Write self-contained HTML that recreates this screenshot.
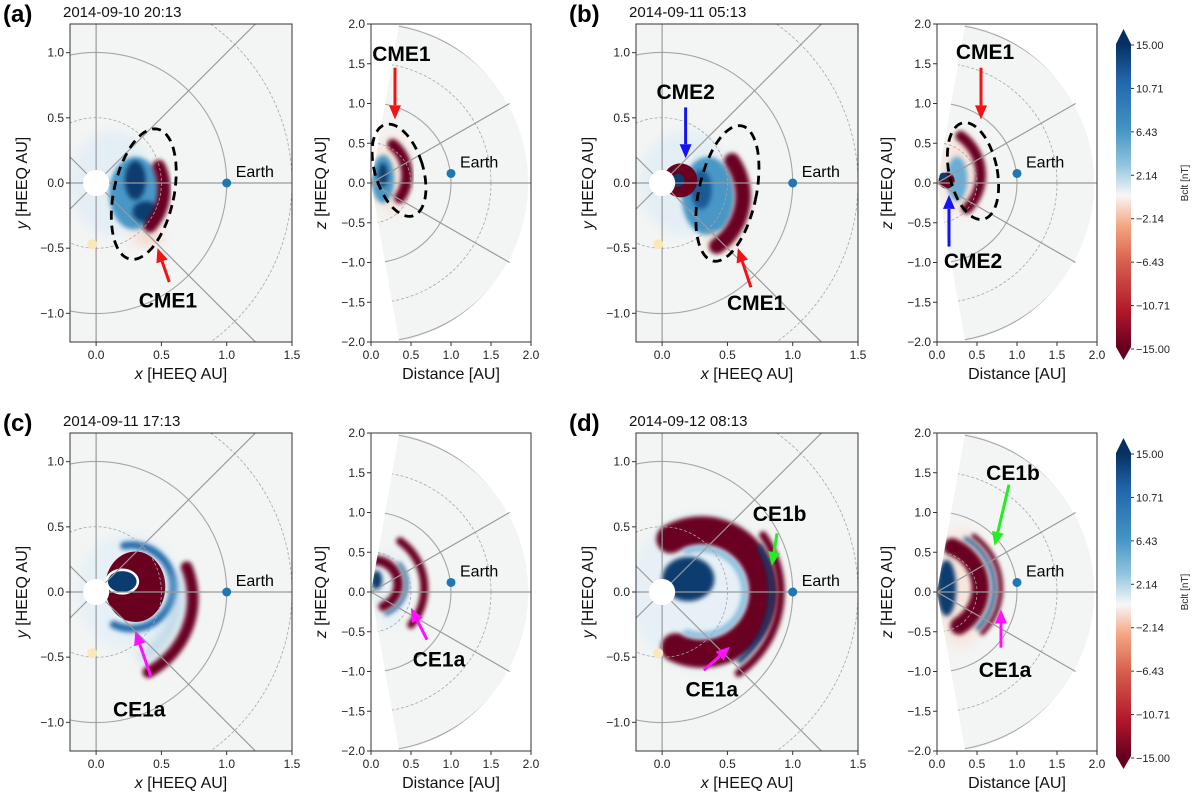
<!DOCTYPE html>
<html><head><meta charset="utf-8"><style>
html,body{margin:0;padding:0;background:#fff;width:1200px;height:796px;overflow:hidden;}
svg{display:block;font-family:"Liberation Sans","DejaVu Sans",sans-serif;}
</style></head><body>
<svg id="fig" width="1200" height="796" viewBox="0 0 1200 796" xmlns="http://www.w3.org/2000/svg">
<defs>
<linearGradient id="cbgrad" x1="0" y1="1" x2="0" y2="0">
<stop offset="0" stop-color="#67001f"/><stop offset="0.12" stop-color="#b2182b"/><stop offset="0.28" stop-color="#d6604d"/>
<stop offset="0.4" stop-color="#f4a582"/><stop offset="0.5" stop-color="#f7f7f7"/><stop offset="0.6" stop-color="#92c5de"/>
<stop offset="0.72" stop-color="#4393c3"/><stop offset="0.88" stop-color="#2166ac"/><stop offset="1" stop-color="#053061"/>
</linearGradient>
<filter id="blur1" x="-50%" y="-50%" width="200%" height="200%"><feGaussianBlur stdDeviation="2"/></filter>
<filter id="blur3" x="-50%" y="-50%" width="200%" height="200%"><feGaussianBlur stdDeviation="6"/></filter>
</defs>
</svg>
<script>
const NS="http://www.w3.org/2000/svg";
const svg=document.getElementById('fig');
// ---- data arrays ----
const panelLabels=["(a)","(b)","(c)","(d)"];
const panelDates=["2014-09-10 20:13","2014-09-11 05:13","2014-09-11 17:13","2014-09-12 08:13"];
const xTicksL=[0.0,0.5,1.0,1.5];
const yTicksL=[-1.0,-0.5,0.0,0.5,1.0];
const xTicksR=[0.0,0.5,1.0,1.5,2.0];
const yTicksR=[-2.0,-1.5,-1.0,-0.5,0.0,0.5,1.0,1.5,2.0];
const cbTicks=["15.00","10.71","6.43","2.14","\u22122.14","\u22126.43","\u221210.71","\u221215.00"];
const earthL=[1.0,0.0];
const earthR=[1.0,0.12];
// features: ell: cx,cy,rx,ry,color,blur ; arc: cx,cy,r,a0,a1,w,color,blur
const featA_L=[["ell",0.12,0.0,0.32,0.4,"#e3eef5",3],["ell",0.3,-0.08,0.2,0.28,"#4a97c6",1],["ell",0.3,0.02,0.08,0.15,"#0b3c6f",1],["ell",0.38,-0.22,0.1,0.08,"#0b3c6f",1],["ell",0.4,-0.42,0.12,0.05,"#f6d2c2",3],["arc",0.1,-0.05,0.42,-42,25,0.1,"#6a0020",1]];
const featA_R=[["ell",0.25,0.1,0.22,0.5,"#f7e3da",3],["ell",0.15,0.05,0.14,0.3,"#4a97c6",1],["ell",0.15,0.1,0.06,0.15,"#0b3c6f",1],["arc",-0.05,0.1,0.5,-35,50,0.14,"#6a0020",1]];
const featB_L=[["ell",0.18,0.0,0.35,0.4,"#e3eef5",3],["ell",0.35,-0.1,0.2,0.3,"#4a97c6",1],["ell",0.3,-0.05,0.08,0.15,"#1b5a95",1],["ell",0.45,-0.45,0.12,0.05,"#f6d2c2",3],["arc",0.15,-0.1,0.47,-55,35,0.12,"#6a0020",1],["ell",0.14,0.02,0.13,0.13,"#6a0020",0],["ell",0.12,0.02,0.05,0.05,"#0b3c6f",0]];
const featB_R=[["ell",0.3,0.1,0.25,0.5,"#f7e3da",3],["ell",0.25,0.05,0.13,0.28,"#6aaed6",1],["arc",-0.05,0.1,0.6,-45,55,0.13,"#6a0020",1],["ell",0.12,0.03,0.1,0.1,"#6a0020",0],["ell",0.08,0.08,0.05,0.05,"#0b3c6f",0]];
const featC_L=[["ell",0.25,0.0,0.4,0.45,"#e6f0f6",3],["arc",0.27,0.04,0.32,-115,100,0.06,"#2b6fae",1],["ell",0.3,0.04,0.23,0.27,"#6a0020",0],["ell",0.2,0.08,0.13,0.1,"#ffffff",0],["ell",0.2,0.08,0.11,0.08,"#0b3c6f",0],["arc",0.1,-0.05,0.64,-62,22,0.09,"#6a0020",1],["arc",0.1,-0.05,0.52,-60,20,0.05,"#8fc0de",2]];
const featC_R=[["ell",0.25,0.05,0.25,0.5,"#e8f1f6",3],["arc",0.05,0.1,0.3,-70,90,0.12,"#6a0020",1],["arc",0.05,0.1,0.4,-70,40,0.04,"#1b5a95",1],["arc",-0.05,0.05,0.72,-40,55,0.1,"#6a0020",1],["ell",0.07,0.15,0.07,0.12,"#0b3c6f",1]];
const featD_L=[["ell",0.3,0.0,0.55,0.6,"#e6f0f6",3],["arc",0.3,0.0,0.47,-115,120,0.22,"#6a0020",1],["ell",0.2,0.1,0.2,0.17,"#0b3c6f",1],["arc",0.3,0.0,0.33,-110,110,0.05,"#8fc0de",1],["arc",0.15,0.0,0.69,-50,30,0.04,"#0b3c6f",1],["arc",0.15,0.0,0.76,-55,35,0.06,"#6a0020",1]];
const featD_R=[["ell",0.3,0.05,0.35,0.75,"#f7e6de",3],["ell",0.12,0.05,0.12,0.35,"#0b3c6f",1],["arc",0.0,0.05,0.55,-60,70,0.22,"#6a0020",1],["arc",0.0,0.05,0.72,-45,60,0.05,"#1b5a95",1],["arc",0.0,0.05,0.8,-45,55,0.06,"#6a0020",1]];
const ellA_L=[0.365,-0.085,0.23,0.51,12], ellA_R=[0.35,0.16,0.3,0.6,-17];
const ellB_L=[0.5,-0.08,0.22,0.53,12], ellB_R=[0.45,0.15,0.3,0.62,-12];
// annotations: label, lx, ly, tail x,y, head x,y, color
const annA_L=[["CME1",0.55,-0.9,0.56,-0.76,0.47,-0.5,"#f01414"]];
const annA_R=[["CME1",0.38,1.62,0.3,1.45,0.3,0.8,"#f01414"]];
const annB_L=[["CME2",0.18,0.7,0.18,0.58,0.18,0.19,"#1414f0"],["CME1",0.72,-0.92,0.68,-0.8,0.58,-0.5,"#f01414"]];
const annB_R=[["CME1",0.6,1.65,0.55,1.45,0.55,0.8,"#f01414"],["CME2",0.45,-0.98,0.15,-0.8,0.15,-0.15,"#1414f0"]];
const annC_L=[["CE1a",0.33,-0.9,0.42,-0.65,0.3,-0.3,"#ff10ff"]];
const annC_R=[["CE1a",0.85,-0.85,0.7,-0.6,0.5,-0.2,"#ff10ff"]];
const annD_L=[["CE1b",0.9,0.6,0.88,0.45,0.84,0.2,"#22ee22"],["CE1a",0.38,-0.75,0.32,-0.6,0.52,-0.42,"#ff10ff"]];
const annD_R=[["CE1b",0.95,1.5,0.9,1.35,0.72,0.58,"#22ee22"],["CE1a",0.85,-0.98,0.8,-0.7,0.8,-0.22,"#ff10ff"]];

function el(tag,attrs,parent){const e=document.createElementNS(NS,tag);for(const k in attrs)e.setAttribute(k,attrs[k]);(parent||svg).appendChild(e);return e;}
let clipId=0;
function makeAxes(ox,oy,kind){
  const A= kind==="L" ? {x0:70+ox,y0:24+oy,w:222,h:318,xmin:-0.2,xmax:1.5,ymin:-1.22,ymax:1.22}
                      : {x0:371+ox,y0:24+oy,w:160,h:318,xmin:0,xmax:2,ymin:-2,ymax:2};
  A.X=v=>A.x0+(v-A.xmin)/(A.xmax-A.xmin)*A.w;
  A.Y=v=>A.y0+(A.ymax-v)/(A.ymax-A.ymin)*A.h;
  A.s=A.w/(A.xmax-A.xmin);
  return A;
}
function drawPanel(ox,oy,kind,feats,ell,anns,earth){
  const A=makeAxes(ox,oy,kind);
  const g=el('g',{});
  
  
  const cid='clip'+(clipId++);
  const cp=el('clipPath',{id:cid},g);
  el('rect',{x:A.x0,y:A.y0,width:A.w,height:A.h},cp);
  const inner=el('g',{'clip-path':`url(#${cid})`},g);
  const bg='#f3f5f4';
  const R=2.03,a=80*Math.PI/180;
  const wedge=`M${A.X(0)},${A.Y(0)} L${A.X(R*Math.cos(a))},${A.Y(R*Math.sin(a))} A${R*A.s},${R*A.s} 0 0 1 ${A.X(R*Math.cos(a))},${A.Y(-R*Math.sin(a))} Z`;
  if(kind==="L"){el('rect',{x:A.x0,y:A.y0,width:A.w,height:A.h,fill:bg},inner);}
  else{el('path',{d:wedge,fill:bg},inner);}
  const fg=el('g',{},inner);
  const wc='wclip'+clipId;
  if(kind==="R"){const wcp=el('clipPath',{id:wc},g);el('path',{d:wedge},wcp);fg.setAttribute('clip-path',`url(#${wc})`);}
  
  
  feats.forEach(f=>{
    let e;
    if(f[0]==="ell"){
      e=el('ellipse',{cx:A.X(f[1]),cy:A.Y(f[2]),rx:f[3]*A.s,ry:f[4]*A.s,fill:f[5]},fg);
      if(f[6])e.setAttribute('filter',f[6]>2?'url(#blur3)':'url(#blur1)');
    }else{
      const [_,cx,cy,r,a0,a1,w,c,b]=f;
      const p0=[cx+r*Math.cos(a0*Math.PI/180),cy+r*Math.sin(a0*Math.PI/180)];
      const p1=[cx+r*Math.cos(a1*Math.PI/180),cy+r*Math.sin(a1*Math.PI/180)];
      const large=(a1-a0)>180?1:0;
      e=el('path',{d:`M${A.X(p0[0])},${A.Y(p0[1])} A${r*A.s},${r*A.s} 0 ${large} 0 ${A.X(p1[0])},${A.Y(p1[1])}`,fill:'none',stroke:c,'stroke-width':w*A.s,'stroke-linecap':'round'},fg);
      if(b)e.setAttribute('filter',b>1?'url(#blur3)':'url(#blur1)');
    }
    
    
  });
  const gc='#a5a5a5';
  const radii = kind==="L" ? [[0.5,true],[1.0,false],[1.5,true]] : [[0.5,true],[1.0,false],[1.5,true],[1.99,false]];
  const gridG=el('g',{},inner);
  if(kind==="R"){gridG.setAttribute('clip-path',`url(#${wc})`);}
  radii.forEach(([r,d])=>{
    const c=el('circle',{cx:A.X(0),cy:A.Y(0),r:r*A.s,fill:'none',stroke:gc,'stroke-width':d?0.8:1.1,'stroke-dasharray':d?'3,2':'none'},gridG);
    
    
  });
  const angs = kind==="L"?[0,45,90,135,180,225,270,315]:[0,30,-30];
  angs.forEach(a=>{
    const t=a*Math.PI/180,RR=kind==="L"?1.95:2.0;
    const l=el('line',{x1:A.X(0),y1:A.Y(0),x2:A.X(RR*Math.cos(t)),y2:A.Y(RR*Math.sin(t)),stroke:'#9a9a9a','stroke-width':1.2},inner);
    
    
  });
  if(kind==="L"){
    const sun=el('circle',{cx:A.X(0),cy:A.Y(0),r:0.1*A.s,fill:'#fff'},inner);
    
    
    const yd=el('circle',{cx:A.X(-0.03),cy:A.Y(-0.47),r:5,fill:'#fbe8b8'},inner);
    
    
  }
  if(ell){
    const [cx,cy,rx,ry,tilt]=ell;const a=tilt*Math.PI/180;let d='';
    for(let i=0;i<=72;i++){const t=i/72*2*Math.PI;
      const x=cx+ry*Math.sin(t)*Math.sin(a)+rx*Math.cos(t)*Math.cos(a);
      const y=cy+ry*Math.sin(t)*Math.cos(a)-rx*Math.cos(t)*Math.sin(a);
      d+=(i?'L':'M')+A.X(x).toFixed(1)+','+A.Y(y).toFixed(1);}
    const e=el('path',{d:d,fill:'none',stroke:'#000','stroke-width':2.8,'stroke-dasharray':'9,6'},inner);
    
    
  }
  const ea=el('circle',{cx:A.X(earth[0]),cy:A.Y(earth[1]),r:4.5,fill:'#1f77b4'},inner);
  
  
  const et=el('text',{x:A.X(earth[0])+9,y:A.Y(earth[1])-6,'font-size':16,fill:'#000'},inner);
  et.textContent='Earth';
  
  
  anns.forEach(an=>{
    const [lab,lx,ly,tx,ty,hx,hy,c]=an;
    const x1=A.X(tx),y1=A.Y(ty),x2=A.X(hx),y2=A.Y(hy);
    const ang=Math.atan2(y2-y1,x2-x1),L=14,W=6;
    const bx=x2-L*Math.cos(ang),by=y2-L*Math.sin(ang);
    const ag=el('g',{},inner);
    
    
    el('line',{x1:x1,y1:y1,x2:bx,y2:by,stroke:c,'stroke-width':3},ag);
    el('polygon',{points:`${x2},${y2} ${bx+W*Math.sin(ang)},${by-W*Math.cos(ang)} ${bx-W*Math.sin(ang)},${by+W*Math.cos(ang)}`,fill:c},ag);
    const t=el('text',{x:A.X(lx),y:A.Y(ly)+7,'font-size':21,'font-weight':'bold','text-anchor':'middle',fill:'#000'},inner);
    t.textContent=lab;
    
    
  });
  const fr=el('rect',{x:A.x0,y:A.y0,width:A.w,height:A.h,fill:'none',stroke:'#333','stroke-width':1},g);
  
  
  const xt=kind==="L"?xTicksL:xTicksR, yt=kind==="L"?yTicksL:yTicksR;
  xt.forEach(v=>{
    el('line',{x1:A.X(v),y1:A.y0+A.h,x2:A.X(v),y2:A.y0+A.h+4,stroke:'#333'},g);
    const t=el('text',{x:A.X(v),y:A.y0+A.h+17,'font-size':12,'text-anchor':'middle',fill:'#222'},g);
    t.textContent=v.toFixed(1);
    
    
  });
  yt.forEach(v=>{
    el('line',{x1:A.x0-4,y1:A.Y(v),x2:A.x0,y2:A.Y(v),stroke:'#333'},g);
    const t=el('text',{x:A.x0-6,y:A.Y(v)+4,'font-size':12,'text-anchor':'end',fill:'#222'},g);
    t.textContent=(v<0?'\u2212':'')+Math.abs(v).toFixed(1);
    
    
  });
  const xl=el('text',{x:A.x0+A.w/2,y:A.y0+A.h+37,'font-size':16,'text-anchor':'middle',fill:'#111'},g);
  xl.innerHTML=kind==="L"?'<tspan font-style="italic">x</tspan> [HEEQ AU]':'Distance [AU]';
  
  
  const yx=A.x0-(kind==="L"?43:45), yy=A.y0+A.h/2;
  const yl=el('text',{x:yx,y:yy,'font-size':16,'text-anchor':'middle',fill:'#111',transform:`rotate(-90 ${yx} ${yy})`},g);
  yl.innerHTML=`<tspan font-style="italic">${kind==="L"?'y':'z'}</tspan> [HEEQ AU]`;
  
  
}
function colorbar(oy){
  const g=el('g',{});
  
  
  const x0=1116,w=15,top=44+oy,bot=347+oy;
  el('rect',{x:x0,y:top,width:w,height:bot-top,fill:'url(#cbgrad)'},g);
  el('polygon',{points:`${x0},${top} ${x0+w},${top} ${x0+w/2},${top-15}`,fill:'#053061'},g);
  el('polygon',{points:`${x0},${bot} ${x0+w},${bot} ${x0+w/2},${bot+13}`,fill:'#67001f'},g);
  cbTicks.forEach((s,i)=>{
    const y=45+oy+i*(304/7);
    el('line',{x1:x0+w,y1:y,x2:x0+w+3,y2:y,stroke:'#333'},g);
    const t=el('text',{x:x0+w+5,y:y+4,'font-size':11,fill:'#222'},g);
    t.textContent=s;
    
    
  });
  const lx=1188,ly=183+oy;
  const t=el('text',{x:lx,y:ly,'font-size':10,'text-anchor':'middle',fill:'#222',transform:`rotate(-90 ${lx} ${ly})`},g);
  t.textContent='Bclt  [nT]';
  
  
}
const offs=[[0,0],[566,0],[0,409],[566,409]];
const FL=[featA_L,featB_L,featC_L,featD_L],FR=[featA_R,featB_R,featC_R,featD_R];
const EL=[ellA_L,ellB_L,null,null],ER=[ellA_R,ellB_R,null,null];
const AL=[annA_L,annB_L,annC_L,annD_L],AR=[annA_R,annB_R,annC_R,annD_R];
for(let i=0;i<4;i++){
  const [ox,oy]=offs[i];
  drawPanel(ox,oy,"L",FL[i],EL[i],AL[i],earthL);
  drawPanel(ox,oy,"R",FR[i],ER[i],AR[i],earthR);
  const pl=el('text',{x:3+ox,y:22+oy,'font-size':24,'font-weight':'bold',fill:'#000'});
  pl.textContent=panelLabels[i];
  
  
  const dt=el('text',{x:63+ox,y:17+oy,'font-size':15,fill:'#111'});
  dt.textContent=panelDates[i];
  
  
}
colorbar(0);colorbar(409);
</script>
</body></html>
